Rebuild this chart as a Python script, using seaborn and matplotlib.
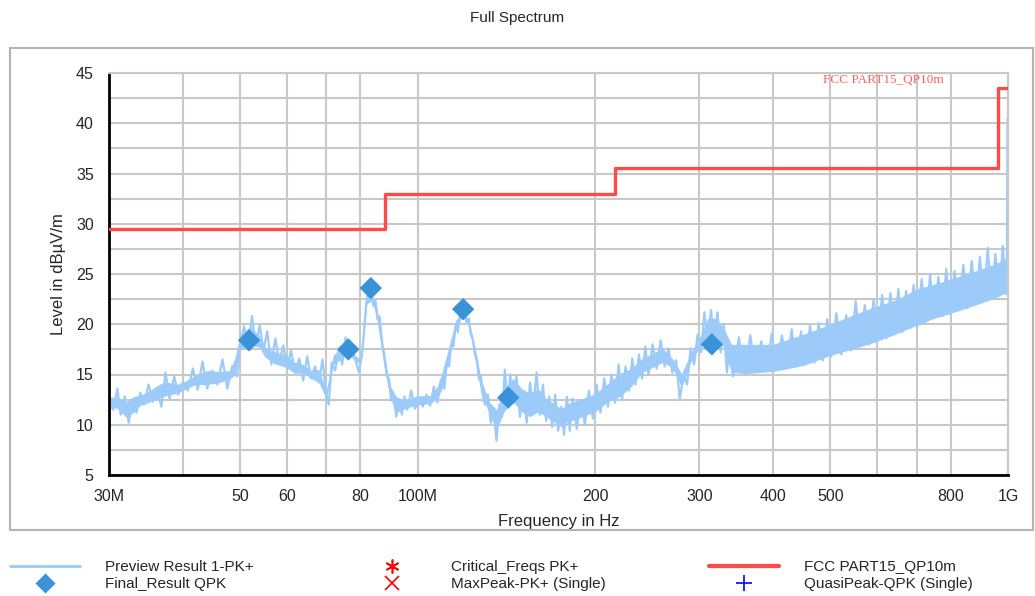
import numpy as np
import pandas as pd
import matplotlib
matplotlib.use("Agg")
import matplotlib.pyplot as plt
import seaborn as sns
from matplotlib.lines import Line2D
from matplotlib.patches import Rectangle
from matplotlib.ticker import FixedLocator, NullLocator, MultipleLocator, FixedFormatter

# ---------------- data (MHz / dBuV/m) ----------------
# core band of the dense preview trace
env_freq = [30, 31, 32, 33, 34, 35, 36, 37, 38, 39, 40, 42, 44, 46, 48, 49, 50, 52, 54, 55, 57, 60,
            62, 64, 66, 68, 70, 72, 74, 76, 78, 80, 81, 82, 83.5, 85, 86.5, 88, 90, 92, 95, 100, 105,
            108, 110, 113, 116, 119, 122, 125, 128, 132, 136, 140, 145, 150, 155, 160, 165, 170, 175,
            180, 190, 200, 210, 220, 230, 240, 250, 260, 270, 280, 290, 300, 310, 320, 330, 340, 360,
            400, 450, 500, 550, 600, 650, 700, 750, 800, 850, 900, 950, 990, 998]
env_low = [11.9, 11.6, 10.8, 11.2, 12.0, 12.2, 12.6, 12.8, 13.0, 13.1, 13.4, 14.0, 14.0, 14.2, 14.5,
           15.0, 17.5, 18.0, 17.7, 16.8, 16.1, 15.7, 15.1, 15.2, 14.6, 14.2, 12.6, 16.0, 16.5, 17.0,
           16.5, 16.0, 18.7, 22.0, 22.4, 21.0, 18.2, 15.2, 12.6, 11.2, 11.6, 12.0, 12.1, 12.6, 13.6,
           16.6, 19.5, 20.8, 20.0, 16.6, 13.2, 11.2, 9.5, 11.3, 12.3, 11.3, 10.8, 11.3, 10.8, 10.3,
           9.8, 10.3, 10.8, 11.3, 12.3, 12.8, 13.8, 15.2, 15.7, 16.2, 15.7, 13.7, 16.2, 17.7, 18.7,
           18.7, 17.7, 15.2, 15.1, 15.3, 15.9, 16.9, 17.6, 18.3, 19.1, 19.9, 20.6, 21.1, 21.6, 22.1,
           22.6, 23.1, 23.1]
env_high = [12.7, 12.8, 12.2, 12.8, 13.0, 13.3, 13.8, 14.2, 14.2, 14.0, 14.2, 14.9, 15.4, 15.3, 15.4,
            16.6, 18.8, 19.8, 18.8, 17.8, 17.3, 16.9, 16.2, 16.0, 15.4, 15.5, 13.4, 17.0, 17.4, 17.9,
            17.0, 16.5, 20.2, 22.9, 23.0, 22.0, 19.7, 16.3, 13.8, 12.8, 12.4, 12.9, 12.9, 13.8, 15.2,
            17.8, 20.4, 21.2, 20.5, 17.8, 14.6, 12.3, 11.5, 13.6, 14.6, 13.6, 13.1, 13.6, 12.6, 12.1,
            11.6, 12.1, 12.6, 13.1, 14.1, 15.1, 15.6, 16.6, 17.1, 17.6, 16.6, 15.1, 17.1, 18.6, 20.6,
            20.6, 19.6, 18.0, 18.0, 18.0, 19.0, 20.0, 21.0, 21.8, 22.5, 23.5, 24.0, 24.5, 25.0, 25.5,
            26.0, 26.5, 27.0]

# preview trace peaks / troughs
trace_freq = [30, 30.5, 31, 31.4, 31.9, 32.4, 32.9, 33.4, 33.9, 34.4, 35, 35.6, 36.2, 36.8, 37.4, 38,
              38.7, 39.3, 40, 40.8, 41.6, 42.4, 43.2, 44, 44.9, 45.8, 46.7, 47.6, 48.5, 49.4, 50,
              50.8, 51.6, 52.4, 53.2, 54, 54.8, 55.6, 56.5, 57.4, 58.3, 59.2, 60.1, 61, 62, 63, 64,
              65, 66, 67, 68, 69, 70, 70.7, 71.5, 72.5, 73.5, 74.5, 75.5, 76.5, 77.5, 78.5, 79.5,
              80.5, 81.2, 81.8, 82.4, 83, 83.6, 84.2, 84.8, 85.5, 86.2, 87, 87.8, 88.6, 89.4, 90.2,
              91, 92, 93, 94, 95, 96, 97.5, 99, 100.5, 102, 103.5, 105, 106.5, 108, 109.5, 111, 112,
              113, 114, 115, 116, 117, 118, 119, 120, 121, 122, 123, 124, 125, 126, 127, 128, 129,
              130, 131.5, 133, 134.5, 136, 137.5, 139, 140.5, 142, 143.5, 145, 147, 149, 151, 153,
              155, 157, 159, 161, 163, 165, 167, 169, 171, 173, 175, 177, 179, 181, 183, 186, 189,
              192, 195, 198, 201, 204, 207, 210, 213, 216, 219, 222, 225, 228, 231, 234, 237, 240,
              243, 246, 250, 254, 258, 262, 266, 270, 274, 278, 282, 286, 290, 294, 298, 302, 306,
              310, 314, 318, 322, 326, 330, 334, 338, 342, 350, 358, 366, 374, 382, 390, 398, 406,
              414, 422, 430, 438, 446, 454, 462, 470, 478, 486, 494, 502, 512, 522, 532, 542, 552,
              562, 572, 582, 592, 602, 612, 622, 632, 642, 652, 662, 672, 682, 692, 702, 714, 726,
              738, 750, 762, 774, 786, 798, 812, 826, 840, 854, 868, 882, 896, 910, 924, 938, 952,
              966, 980, 992, 996, 998]
trace_level = [12.2, 11.5, 13.6, 11.0, 12.8, 10.2, 12.5, 11.2, 13.2, 12.0, 14.0, 12.3, 13.5, 11.8,
               15.2, 12.6, 14.8, 13.0, 14.2, 13.4, 15.6, 13.5, 16.3, 13.6, 15.4, 14.0, 16.5, 13.6,
               15.8, 14.8, 18.0,
               19.8, 17.6, 20.8, 17.8, 19.9, 17.4, 19.3, 16.0, 18.6, 16.2, 17.9, 15.5, 17.4, 15.2,
               16.6, 14.4, 16.8, 14.6, 15.8, 14.2, 16.5, 13.0, 12.0, 16.2, 15.4, 17.6, 16.0, 18.7,
               16.6, 17.8, 16.4, 15.2, 17.0,
               19.5, 22.0, 23.2, 22.2, 23.0, 21.8, 22.4, 20.5, 20.8, 18.2, 17.0, 15.2, 14.5, 12.4,
               13.0, 10.8,
               12.5, 11.0, 12.8, 11.5, 13.4, 11.6, 12.6, 11.8, 13.0, 11.9, 13.8, 12.2, 14.5, 13.6,
               16.2, 15.8, 18.0, 17.8, 20.0, 19.2, 21.2, 20.6, 21.0, 20.2, 20.6, 19.0, 18.5, 17.0,
               16.5, 14.5, 14.8, 12.8,
               12.0, 13.0, 10.2, 11.5, 8.4, 12.0, 10.8, 15.5, 12.0, 15.0, 12.2, 14.8, 10.8, 13.2,
               10.2, 14.2, 11.6, 15.2, 11.0, 14.0, 10.4, 12.8, 9.8, 13.0, 9.4, 11.8, 9.0, 12.8, 9.4,
               12.6, 9.6, 12.4, 10.0, 13.4, 10.6,
               14.0, 11.2, 14.6, 11.8, 15.0, 12.2, 16.0, 12.6, 15.8, 13.4, 16.6, 14.0, 17.0, 14.6,
               17.8, 15.0, 18.0, 15.6, 18.4, 15.8, 17.6, 15.2, 16.4, 12.5, 15.0, 14.0, 17.6, 16.0,
               19.0, 17.2, 21.2, 18.0, 21.4, 17.8, 21.2, 17.2, 20.0, 15.2, 18.0, 14.8,
               18.7, 15.0, 18.9, 15.2, 18.3, 15.4, 19.1, 15.5, 18.9, 15.6, 19.5, 15.8, 19.3, 16.0,
               19.9, 16.2, 20.1, 16.4, 20.5, 16.8, 21.1, 17.0, 20.9, 17.4, 22.3, 17.8, 21.9, 18.0,
               22.5, 18.4, 22.9, 18.6, 23.1, 19.0, 23.5, 19.2, 23.3, 19.6, 23.9, 19.8, 24.5, 20.2,
               24.9, 20.6, 24.7, 20.8, 25.5, 21.0, 25.3, 21.4, 25.9, 21.6, 26.3, 22.0, 26.7, 22.4,
               27.6, 22.6, 27.0, 23.0, 27.8, 23.0, 27.3, 40.5]

# final QPK results
qpk_freq = [51.8, 76.3, 83.3, 119.4, 142.4, 315.0]
qpk_level = [18.4, 17.5, 23.6, 21.5, 12.7, 18.0]

# FCC Part 15 limit (10 m)
limit_freq = [30, 88, 216, 960, 1000]
limit_level = [29.5, 33.0, 35.5, 43.5, 43.5]

xtick_vals = [30, 40, 50, 60, 70, 80, 100, 200, 300, 400, 500, 600, 700, 800, 1000]
xtick_labels = ["30M", "", "50", "60", "", "80", "100M", "200", "300", "400", "500", "", "", "800", "1G"]

legend_labels = ["Preview Result 1-PK+", "Final_Result QPK", "Critical_Freqs PK+",
                 "MaxPeak-PK+ (Single)", "FCC PART15_QP10m", "QuasiPeak-QPK (Single)"]

# ---------------- style ----------------
sns.set_style("white")
plt.rcParams['font.family'] = ['Liberation Sans', 'DejaVu Sans']

C_TRACE = "#9ccbfa"
C_QPK = "#3a92d8"
C_LIMIT = "#ff4a4a"
C_GRID = "#c8c8c8"

fig = plt.figure(figsize=(10.35, 5.96), dpi=100)
ax = fig.add_axes([109 / 1035, 121 / 596, 899 / 1035, 402 / 596])

fig.patches.append(Rectangle((10 / 1035, 66 / 596), 1023 / 1035, 482 / 596,
                             transform=fig.transFigure, fill=False,
                             edgecolor="#b4b4b4", lw=1.5, zorder=0))

ax.set_xscale("log")
ax.set_xlim(30, 1000)
ax.set_ylim(5, 45)

ax.fill_between(env_freq, env_low, env_high, color=C_TRACE, lw=0, zorder=2)
sns.lineplot(x=trace_freq, y=trace_level, ax=ax, color=C_TRACE, lw=1.6,
             estimator=None, sort=False, zorder=2)
sns.lineplot(x=limit_freq, y=limit_level, ax=ax, color=C_LIMIT, lw=2.4,
             estimator=None, drawstyle="steps-post", zorder=3)
sns.scatterplot(x=qpk_freq, y=qpk_level, ax=ax, marker="D", s=130, color=C_QPK,
                edgecolor="none", zorder=5)

ax.text(0.928, 0.983, "FCC PART15_QP10m", transform=ax.transAxes, ha="right", va="center",
        fontsize=9.5, color="#ff6060", family=["Liberation Serif", "DejaVu Serif"])

ax.xaxis.set_major_locator(FixedLocator(xtick_vals))
ax.xaxis.set_major_formatter(FixedFormatter(xtick_labels))
ax.xaxis.set_minor_locator(NullLocator())
ax.yaxis.set_major_locator(MultipleLocator(5))
ax.yaxis.set_minor_locator(MultipleLocator(2.5))

ax.grid(True, which="both", color=C_GRID, lw=1.5, zorder=0)
ax.set_axisbelow(True)
ax.tick_params(axis="both", which="both", direction="inout", length=14, width=1.5,
               color="black", labelsize=11.5)
ax.tick_params(axis="x", pad=3)
ax.tick_params(axis="y", pad=4)
ax.tick_params(axis="y", which="minor", length=14)

for s in ["left", "bottom"]:
    ax.spines[s].set_color("black")
    ax.spines[s].set_linewidth(2)
for s in ["top", "right"]:
    ax.spines[s].set_color(C_GRID)
    ax.spines[s].set_linewidth(1.5)

ax.set_xlabel("Frequency in Hz", fontsize=12, labelpad=7)
ax.set_ylabel("Level in dBµV/m", fontsize=12, labelpad=7)

fig.text(0.5, 1 - 18 / 596, "Full Spectrum", ha="center", va="center", fontsize=11)

handles = [
    Line2D([], [], color=C_TRACE, lw=2),
    Line2D([], [], color=C_QPK, marker="D", ms=10, ls="none", mec="none"),
    Line2D([], [], color="red", marker=(6, 2, 0), ms=10, ls="none", mew=1.2),
    Line2D([], [], color="red", marker="x", ms=10, ls="none", mew=1.2),
    Line2D([], [], color=C_LIMIT, lw=3),
    Line2D([], [], color="blue", marker="+", ms=12, ls="none", mew=1.2),
]
fig.legend(handles, legend_labels, loc="upper left", bbox_to_anchor=(10 / 1035, 1 - 560 / 596),
           ncol=3, frameon=False, fontsize=11, handlelength=4.6, handletextpad=1.6,
           columnspacing=6.75, labelspacing=0.2, borderpad=0, borderaxespad=0)

fig.savefig("out.png", dpi=100)
